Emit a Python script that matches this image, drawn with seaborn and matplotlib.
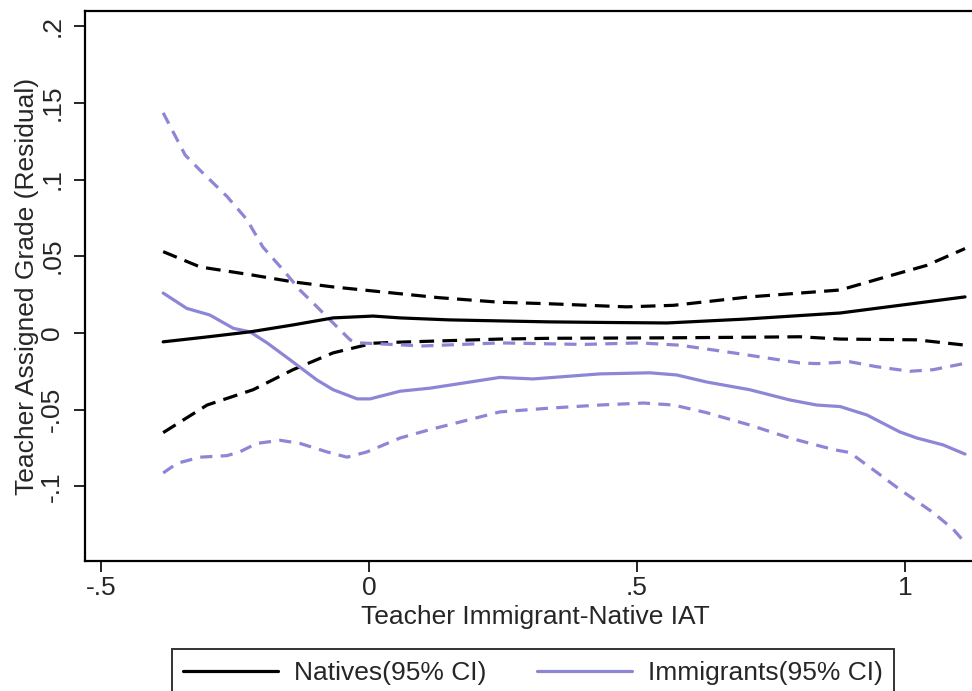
import matplotlib
matplotlib.use("Agg")
import matplotlib.pyplot as plt
import seaborn as sns
import pandas as pd

# ---------------- data ----------------
nat_x = [-0.384, -0.302, -0.222, -0.142, -0.067, 0.0075, 0.058, 0.15, 0.25, 0.338, 0.45, 0.556, 0.70, 0.879, 0.99, 1.112]
nat_y = [-0.0058, -0.0026, 0.0007, 0.0052, 0.0098, 0.011, 0.0098, 0.0085, 0.0078, 0.0072, 0.0068, 0.0065, 0.009, 0.013, 0.018, 0.0235]

nat_hi_x = [-0.384, -0.315, -0.222, -0.142, -0.067, 0.026, 0.13, 0.244, 0.338, 0.48, 0.568, 0.71, 0.879, 0.959, 1.04, 1.112]
nat_hi_y = [0.053, 0.043, 0.038, 0.0333, 0.030, 0.0267, 0.023, 0.020, 0.019, 0.017, 0.018, 0.0235, 0.028, 0.036, 0.044, 0.055]

nat_lo_x = [-0.384, -0.302, -0.216, -0.142, -0.067, 0.0075, 0.058, 0.244, 0.338, 0.55, 0.71, 0.804, 0.879, 1.022, 1.108]
nat_lo_y = [-0.065, -0.047, -0.037, -0.024, -0.013, -0.0067, -0.006, -0.004, -0.0035, -0.0032, -0.0028, -0.0025, -0.004, -0.0045, -0.0078]

imm_x = [-0.384, -0.34, -0.297, -0.253, -0.222, -0.19, -0.147, -0.097, -0.067, -0.022, 0.002, 0.058, 0.114, 0.17, 0.244, 0.306, 0.431, 0.524, 0.574, 0.63, 0.71, 0.785, 0.835, 0.879, 0.929, 0.99, 1.022, 1.071, 1.112]
imm_y = [0.026, 0.016, 0.0117, 0.003, 0.0007, -0.0065, -0.0176, -0.0307, -0.037, -0.043, -0.043, -0.038, -0.036, -0.033, -0.029, -0.030, -0.0267, -0.026, -0.0274, -0.032, -0.037, -0.0437, -0.047, -0.048, -0.0535, -0.0645, -0.0685, -0.073, -0.079]

imm_hi_x = [-0.384, -0.343, -0.315, -0.265, -0.228, -0.198, -0.16, -0.129, -0.097, -0.067, -0.035, -0.017, 0.1, 0.244, 0.4, 0.506, 0.58, 0.68, 0.804, 0.836, 0.897, 0.947, 1.009, 1.052, 1.115]
imm_hi_y = [0.1435, 0.116, 0.106, 0.089, 0.074, 0.056, 0.041, 0.028, 0.017, 0.0065, -0.0046, -0.0065, -0.0085, -0.0065, -0.0075, -0.0065, -0.008, -0.013, -0.0196, -0.020, -0.0188, -0.022, -0.025, -0.024, -0.0196]

imm_lo_x = [-0.384, -0.358, -0.315, -0.265, -0.241, -0.209, -0.166, -0.129, -0.078, -0.041, -0.004, 0.058, 0.114, 0.244, 0.338, 0.431, 0.512, 0.568, 0.63, 0.71, 0.785, 0.866, 0.897, 0.94, 0.99, 1.052, 1.09, 1.115]
imm_lo_y = [-0.0913, -0.085, -0.081, -0.080, -0.0775, -0.072, -0.070, -0.072, -0.0776, -0.081, -0.0776, -0.0685, -0.063, -0.0515, -0.049, -0.047, -0.0457, -0.047, -0.052, -0.060, -0.0685, -0.076, -0.078, -0.089, -0.102, -0.117, -0.128, -0.138]

x_ticks = [-0.5, 0, 0.5, 1]
x_ticklabels = ["-.5", "0", ".5", "1"]
y_ticks = [-0.1, -0.05, 0, 0.05, 0.1, 0.15, 0.2]
y_ticklabels = ["-.1", "-.05", "0", ".05", ".1", ".15", ".2"]
legend_labels = ["Natives(95% CI)", "Immigrants(95% CI)"]
x_label = "Teacher Immigrant-Native IAT"
y_label = "Teacher Assigned Grade (Residual)"

# ---------------- style ----------------
sns.set_style("white")
plt.rcParams["font.family"] = ["Liberation Sans", "DejaVu Sans"]
FS = 19
BLACK = "#000000"
LAV = "#8d86d6"

fig = plt.figure(figsize=(9.72, 6.91), dpi=100)
W, H = 972, 691
ax = fig.add_axes([85 / W, (H - 561) / H, (972 - 85) / W, (561 - 11) / H])

lw = 2.3
dash_black = (0, (4.6, 2.6))
dash_lav = (0, (3.8, 2.6))

series = [
    (nat_hi_x, nat_hi_y, BLACK, dash_black),
    (nat_lo_x, nat_lo_y, BLACK, dash_black),
    (imm_hi_x, imm_hi_y, LAV, dash_lav),
    (imm_lo_x, imm_lo_y, LAV, dash_lav),
    (imm_x, imm_y, LAV, "-"),
    (nat_x, nat_y, BLACK, "-"),
]
for xs, ys, c, ls in series:
    df = pd.DataFrame({"x": xs, "y": ys})
    sns.lineplot(data=df, x="x", y="y", color=c, linestyle=ls, linewidth=lw,
                 estimator=None, sort=False, ax=ax)

ax.set_xlim((85 - 369) / 536, (972 - 369) / 536)
ax.set_ylim(-0.1487, 0.2099)

ax.set_xticks(x_ticks)
ax.set_xticklabels(x_ticklabels, fontsize=FS)
ax.set_yticks(y_ticks)
ax.set_yticklabels(y_ticklabels, fontsize=FS, rotation=90, va="center")
ax.tick_params(axis="both", direction="out", length=8, width=1.2, color="black",
               bottom=True, left=True)
ax.tick_params(axis="y", pad=7)
ax.tick_params(axis="x", pad=3)

for side in ["left", "bottom", "top"]:
    ax.spines[side].set_visible(True)
    ax.spines[side].set_color("black")
    ax.spines[side].set_linewidth(1.6)
ax.spines["right"].set_visible(False)

ax.set_xlabel(x_label, fontsize=FS)
ax.set_ylabel(y_label, fontsize=FS)
ax.xaxis.set_label_coords((535 - 85) / 887, (561 - 617) / 550)
ax.xaxis.label.set_va("center")
ax.yaxis.set_label_coords((27 - 85) / 887, 0.5)
ax.yaxis.label.set_va("center")

handles = [
    plt.Line2D([], [], color=BLACK, lw=lw),
    plt.Line2D([], [], color=LAV, lw=lw),
]
leg = fig.legend(handles, legend_labels, loc="upper center", ncol=2,
                 bbox_to_anchor=(533 / W, 1 - 649 / H), fontsize=FS,
                 frameon=True, fancybox=False, handlelength=3.6,
                 handletextpad=0.6, columnspacing=1.9, borderpad=0.45,
                 borderaxespad=0)
leg.get_frame().set_edgecolor("black")
leg.get_frame().set_linewidth(1.4)

fig.savefig("out.png", dpi=100)
